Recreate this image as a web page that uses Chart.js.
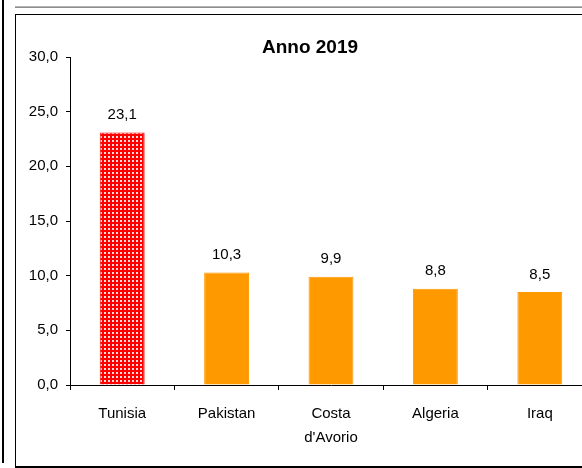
<!DOCTYPE html>
<html>
<head>
<meta charset="utf-8">
<script src="https://cdn.jsdelivr.net/npm/chart.js@4/dist/chart.umd.min.js"></script>
<style>
  html, body { margin: 0; padding: 0; background: #fff; overflow: hidden; width: 582px; height: 468px; }
  #sideRule { position: absolute; left: 2px; top: 0; width: 2px; height: 463px; background: #000; }
  #topRule { position: absolute; left: 15px; top: 6px; width: 600px; height: 2px; background: linear-gradient(#c8c8c8, #7a7a7a); }
  #frame { position: absolute; left: 15px; top: 14px; width: 600px; height: 451px; border-left: 1px solid #000; border-top: 1px solid #000; border-bottom: 2px solid #000; }
  #wrap { position: absolute; left: 15px; top: 15px; width: 600px; height: 450px; }
</style>
</head>
<body>
<div id="sideRule"></div>
<div id="topRule"></div>
<div id="frame"></div>
<div id="wrap"><canvas id="countryChart"></canvas></div>
<script>
// —————— DATA ——————
const countries = [['Tunisia'], ['Pakistan'], ['Costa', "d'Avorio"], ['Algeria'], ['Iraq']];
const shares = [23.1, 10.3, 9.9, 8.8, 8.5];
const yTicks = [0, 5, 10, 15, 20, 25, 30];

const fmt = v => v.toFixed(1).replace('.', ',');

// red dotted fill for the first bar
function dotPattern() {
  const c = document.createElement('canvas');
  c.width = 4; c.height = 4;
  const g = c.getContext('2d');
  g.fillStyle = '#ff0000';
  g.fillRect(0, 0, 4, 4);
  g.globalAlpha = 0.85;
  g.fillStyle = '#ffffff';
  g.fillRect(1, 1, 2, 2);
  return g.createPattern(c, 'repeat');
}

const ctx = document.getElementById('countryChart').getContext('2d');
const fills = shares.map((v, i) => i === 0 ? dotPattern() : '#ff9900');
const borders = shares.map((v, i) => i === 0 ? '#ff0000' : '#ff9900');

// value labels above each bar
const valueLabels = {
  id: 'valueLabels',
  afterDatasetsDraw(chart) {
    const g = chart.ctx;
    const meta = chart.getDatasetMeta(0);
    g.save();
    g.font = '15px "Liberation Sans", Arial, sans-serif';
    g.fillStyle = '#000';
    g.textAlign = 'center';
    g.textBaseline = 'bottom';
    meta.data.forEach((bar, i) => {
      g.fillText(fmt(shares[i]), bar.x, bar.y - 10);
    });
    g.restore();
  }
};

new Chart(ctx, {
  type: 'bar',
  data: {
    labels: countries,
    datasets: [{
      data: shares,
      backgroundColor: fills,
      borderColor: borders,
      borderWidth: 1,
      categoryPercentage: 1,
      barPercentage: 0.43
    }]
  },
  options: {
    responsive: true,
    maintainAspectRatio: false,
    animation: false,
    // left padding keeps the title centred on the framed area
    layout: { padding: { left: 13, right: 23, top: 0, bottom: 0 } },
    plugins: {
      legend: { display: false },
      tooltip: { enabled: false },
      title: {
        display: true,
        text: 'Anno 2019',
        color: '#000',
        font: { family: '"Liberation Sans", Arial, sans-serif', size: 19, weight: 'bold', lineHeight: 1 },
        padding: { top: 23, bottom: 0 }
      }
    },
    scales: {
      y: {
        min: 0,
        max: 30,
        afterFit: s => { s.width = 42; },
        afterBuildTicks: s => { s.ticks = yTicks.map(v => ({ value: v })); },
        border: { color: '#000', width: 1 },
        grid: { drawOnChartArea: false, color: '#000', tickLength: 4 },
        ticks: {
          padding: 8,
          color: '#000',
          font: { family: '"Liberation Sans", Arial, sans-serif', size: 15 },
          callback: v => fmt(v)
        }
      },
      x: {
        offset: true,
        afterFit: s => { s.height = 80; },
        border: { color: '#000', width: 1 },
        grid: { offset: true, drawOnChartArea: false, color: '#000', tickLength: 5 },
        ticks: {
          padding: 12,
          maxRotation: 0,
          autoSkip: false,
          color: '#000',
          font: { family: '"Liberation Sans", Arial, sans-serif', size: 15, lineHeight: 1.6 }
        }
      }
    }
  },
  plugins: [valueLabels]
});
</script>
</body>
</html>
